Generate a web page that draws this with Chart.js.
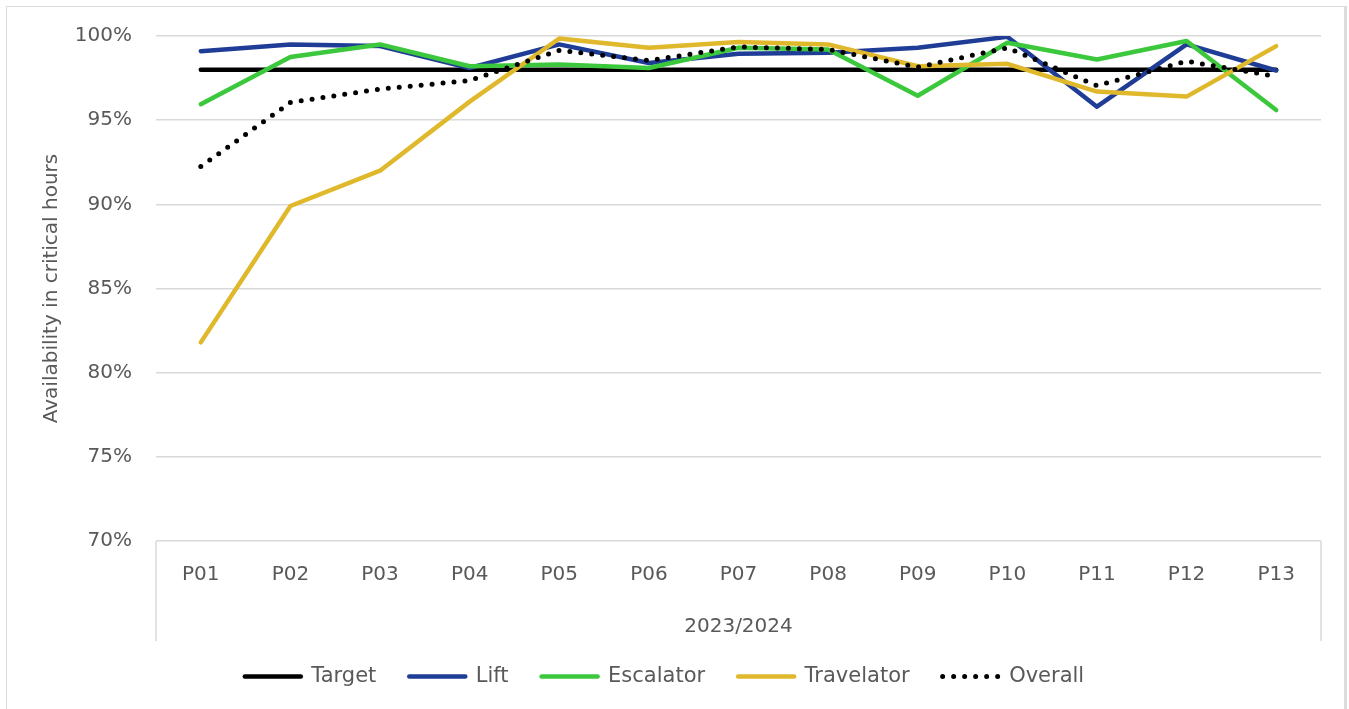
<!DOCTYPE html>
<html>
<head>
<meta charset="utf-8">
<script src="https://cdn.jsdelivr.net/npm/chart.js@4/dist/chart.umd.min.js"></script>
<style>
  html, body { margin: 0; padding: 0; background: #fff; overflow: hidden; }
  #wrap { position: relative; width: 1349px; height: 709px; }
  #frame {
    position: absolute; left: 6px; top: 6px; width: 1337px; height: 720px;
    border: 1.5px solid #dcdcdc; border-right-width: 3px; pointer-events: none;
  }
  canvas { position: absolute; left: 0; top: 0; }
</style>
</head>
<body>
<div id="wrap">
  <canvas id="chart" width="1349" height="709"></canvas>
  <div id="frame"></div>
</div>
<script>
const periods = ["P01", "P02", "P03", "P04", "P05", "P06", "P07", "P08", "P09", "P10", "P11", "P12", "P13"];
const target = [98, 98, 98, 98, 98, 98, 98, 98, 98, 98, 98, 98, 98];
const lift = [99.1, 99.5, 99.4, 98.1, 99.5, 98.4, 98.95, 99.0, 99.3, 99.95, 95.8, 99.5, 97.95];
const escalator = [95.95, 98.75, 99.5, 98.2, 98.3, 98.1, 99.3, 99.2, 96.45, 99.6, 98.6, 99.7, 95.6];
const travelator = [81.8, 89.9, 92.0, 96.1, 99.85, 99.3, 99.65, 99.5, 98.2, 98.35, 96.7, 96.4, 99.4];
const overall = [92.25, 96.05, 96.85, 97.35, 99.15, 98.55, 99.35, 99.2, 98.15, 99.3, 97.05, 98.5, 97.6];
const yTicks = [70, 75, 80, 85, 90, 95, 100];

Chart.defaults.font.family = "'DejaVu Sans', sans-serif";
Chart.defaults.font.size = 20;
Chart.defaults.color = "#595959";

const grey = "#d9d9d9";

// end lines of the category label box under the plot
const categoryBox = {
  id: "categoryBox",
  afterDraw(chart) {
    const a = chart.chartArea;
    const ctx = chart.ctx;
    ctx.save();
    ctx.strokeStyle = grey;
    ctx.lineWidth = 1.5;
    ctx.beginPath();
    ctx.moveTo(a.left, a.bottom);
    ctx.lineTo(a.left, a.bottom + 100);
    ctx.moveTo(a.right, a.bottom);
    ctx.lineTo(a.right, a.bottom + 100);
    ctx.stroke();
    ctx.restore();
  },
};

function line(label, data, color, order, extra) {
  return Object.assign({
    label: label,
    data: data,
    borderColor: color,
    backgroundColor: color,
    borderWidth: 4.5,
    borderCapStyle: "round",
    borderJoinStyle: "round",
    pointRadius: 0,
    tension: 0,
    fill: false,
    order: order,
  }, extra || {});
}

new Chart(document.getElementById("chart"), {
  type: "line",
  data: {
    labels: periods,
    datasets: [
      line("Target", target, "#000000", 5),
      line("Lift", lift, "#1f3d96", 4),
      line("Escalator", escalator, "#3cc83c", 3),
      line("Travelator", travelator, "#e0b82c", 2),
      line("Overall", overall, "#000000", 1, { borderDash: [0, 11], borderWidth: 5 }),
    ],
  },
  options: {
    responsive: false,
    animation: false,
    layout: { padding: { left: 8, right: 28, top: 35, bottom: 12 } },
    plugins: {
      legend: {
        position: "bottom",
        labels: {
          usePointStyle: true,
          pointStyle: "line",
          pointStyleWidth: 56,
          boxWidth: 56,
          padding: 33,
          color: "#595959",
          font: { size: 21 },
          sort: function (a, b) { return a.datasetIndex - b.datasetIndex; },
          generateLabels: function (chart) {
            const items = Chart.defaults.plugins.legend.labels.generateLabels(chart);
            items.forEach(function (it) {
              const ds = chart.data.datasets[it.datasetIndex];
              it.lineDash = ds.borderDash || [];
              it.lineCap = "round";
              it.lineWidth = ds.borderWidth;
            });
            return items;
          },
        },
      },
      tooltip: { enabled: false },
    },
    scales: {
      x: {
        offset: true,
        grid: { display: false, drawTicks: false },
        border: { display: false },
        ticks: { padding: 22, color: "#595959", autoSkip: false, maxRotation: 0 },
        title: { display: true, text: "2023/2024", color: "#595959", padding: { top: 0, bottom: -6 } },
        afterFit: function (s) { s.height = 92; },
      },
      y: {
        min: 70,
        max: 100,
        afterBuildTicks: function (s) { s.ticks = yTicks.map(function (v) { return { value: v }; }); },
        grid: { color: grey, lineWidth: 1.5, drawTicks: false },
        border: { display: false },
        ticks: { padding: 24, color: "#595959", callback: function (v) { return v + "%"; } },
        title: { display: true, text: "Availability in critical hours", color: "#595959", padding: { top: 32, bottom: 0 } },
        afterFit: function (s) { s.width = 148; },
      },
    },
  },
  plugins: [categoryBox],
});
</script>
</body>
</html>
